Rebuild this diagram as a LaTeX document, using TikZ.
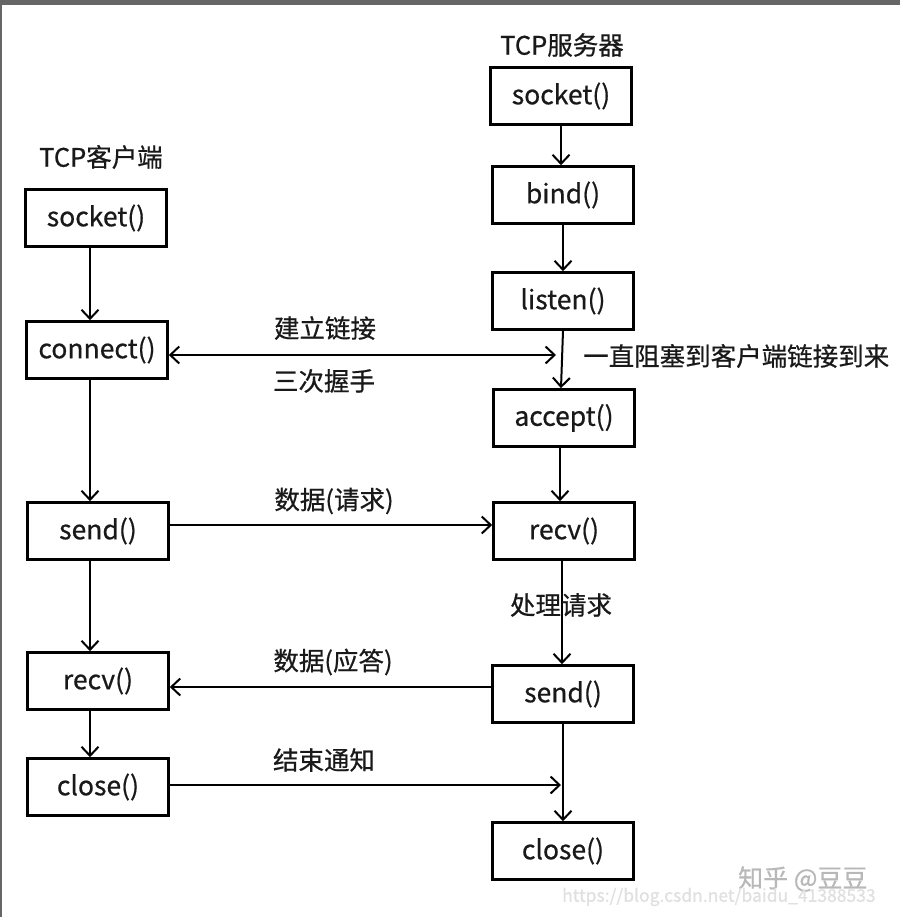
\documentclass[tikz,border=0pt]{standalone}
\usepackage{fontspec}
\newfontfamily\cjk[FakeBold=0.6]{Noto Sans CJK SC}
\usetikzlibrary{arrows.meta,calc}
\tikzset{
  box/.style={draw=black, line width=2.6pt, minimum width=141pt, minimum height=57pt, inner sep=0pt, font=\cjk\fontsize{26.5}{30}\selectfont, text=black!90},
  lbl/.style={font=\cjk\fontsize{25.5}{28}\selectfont, text=black!90, inner sep=0pt},
  tip/.style={Straight Barb[length=9pt,width=17pt,line width=2pt]},
  conn/.style={line width=2pt, -{Straight Barb[length=9pt,width=17pt,line width=2pt]}},
  conn2/.style={line width=2pt, {Straight Barb[length=9pt,width=17pt,line width=2pt]}-{Straight Barb[length=9pt,width=17pt,line width=2pt]}},
  wm/.style={inner sep=0pt}
}
\begin{document}
\begin{tikzpicture}[x=1pt,y=-1pt]
\useasboundingbox (0,0) rectangle (900,917);
\fill[white] (0,0) rectangle (900,917);
\fill[black!60] (0,0) rectangle (900,5);
\fill[black!60] (0,5) rectangle (2,917);

% client
\node[lbl] (ct) at (101,157) {TCP客户端};
\node[box] (cs) at (96,218) {socket()};
\node[box] (cc) at (97,350) {connect()};
\node[box] (csend) at (98,531) {send()};
\node[box] (crecv) at (98,681) {recv()};
\node[box] (cclose) at (98,787) {close()};

% server
\node[lbl] (st) at (562,45) {TCP服务器};
\node[box] (ss) at (561,96) {socket()};
\node[box] (sb) at (563,195) {bind()};
\node[box] (sl) at (563,301) {listen()};
\node[box] (sa) at (564,418) {accept()};
\node[box] (sr) at (564,531) {recv()};
\node[box] (ssend) at (563,694) {send()};
\node[box] (sclose) at (563,851) {close()};

\coordinate (k1) at (556,355);
\coordinate (k2) at (561,785);

% client verticals
\draw[conn] ([xshift=-6pt]cs.south) -- ([xshift=-7pt]cc.north);
\draw[conn] ([xshift=-7pt]cc.south) -- ([xshift=-8pt]csend.north);
\draw[conn] ([xshift=-8pt]csend.south) -- ([xshift=-8pt]crecv.north);
\draw[conn] ([xshift=-8pt]crecv.south) -- ([xshift=-8pt]cclose.north);

% server verticals
\draw[conn] (ss.south) -- (ss.south |- sb.north);
\draw[conn] (sb.south) -- (sb.south |- sl.north);
\draw[conn] (sl.south) -- ([xshift=-3pt]sa.north);
\draw[conn] ([xshift=-4pt]sa.south) -- ([xshift=-4pt]sr.north);
\draw[conn] ([xshift=-2pt]sr.south) -- ([xshift=-1pt]ssend.north);
\draw[conn] (ssend.south) -- (sclose.north);

% horizontals
\draw[conn2] ([yshift=-5pt]cc.east) -- (k1);
\draw[conn] ([yshift=6pt]csend.east) -- ([yshift=6pt]csend.east -| sr.west);
\draw[conn] ([yshift=7pt]ssend.west) -- ([yshift=7pt]ssend.west -| crecv.east);
\draw[conn] ([yshift=2pt]cclose.east) -- (k2);

% labels
\node[lbl] (l1) at (325,328) {建立链接};
\node[lbl] (l2) at (324,381) {三次握手};
\node[lbl, anchor=west] (l3) at (583,356) {一直阻塞到客户端链接到来};
\node[lbl] (l4) at (334,501) {数据(请求)};
\node[lbl] (l5) at (561,605) {处理请求};
\node[lbl] (l6) at (333,662) {数据(应答)};
\node[lbl] (l7) at (324,760) {结束通知};

% watermarks
\node[wm, text=black!28, font=\cjk\fontsize{25}{28}\selectfont, anchor=west] (w1) at (738,879) {知乎 @豆豆};
\node[wm, text=black!12, font=\cjk\fontsize{17.5}{20}\selectfont, anchor=west] (w2) at (562,897) {https://blog.csdn.net/baidu\_41388533};
\end{tikzpicture}
\end{document}
